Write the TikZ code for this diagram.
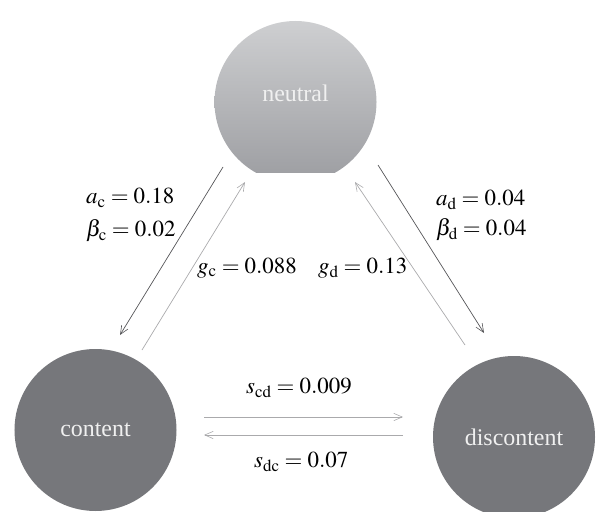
\documentclass[tikz,border=0pt]{standalone}
\usepackage{mathptmx}
\usepackage[no-math]{fontspec}
\setmainfont{Liberation Serif}
\usepackage{tikz}
\usetikzlibrary{arrows.meta,calc}
\definecolor{neutraltop}{RGB}{206,207,209}
\definecolor{neutralbot}{RGB}{156,157,161}
\definecolor{stategray}{RGB}{118,119,123}
\definecolor{ratedark}{RGB}{85,85,88}
\definecolor{ratelight}{RGB}{170,170,172}
\tikzset{
  statenode/.style={circle, minimum size=162bp, inner sep=0pt, text=white!94!black,
                    font=\fontsize{24}{28}\selectfont},
  darkarr/.style={-{Straight Barb[length=3mm,width=2.6mm,line width=0.6pt]}, draw=ratedark, line width=0.7pt},
  lightarr/.style={-{Straight Barb[length=3mm,width=2.6mm,line width=0.6pt]}, draw=ratelight, line width=0.7pt},
  ratelab/.style={anchor=west, inner sep=0pt, font=\fontsize{23}{27}\selectfont},
}

\begin{document}
\begin{tikzpicture}[x=1bp,y=-1bp]
\useasboundingbox (0,0) rectangle (596,512);
% the three states
\begin{scope}
  \clip (0,0) rectangle (596,173);
  \node[statenode, top color=neutraltop, bottom color=neutralbot] (neutral) at (295.5,102) {};
\end{scope}
\node[text=white!94!black, font=\fontsize{24}{28}\selectfont] (neutrallab) at (295.5,93) {neutral};
\node[statenode, fill=stategray] (content) at (95.5,430) {content};
\node[statenode, fill=stategray] (discontent) at (514,437) {discontent};
% transitions neutral <-> content
\draw[darkarr] ($(neutral)+(-72.5,65)$) -- ($(content)+(24.5,-95)$);
\draw[lightarr] ($(content)+(46.5,-80)$) -- ($(neutral)+(-50.5,80)$);
% transitions neutral <-> discontent
\draw[lightarr] ($(discontent)+(-49,-92)$) -- ($(neutral)+(59.5,80)$);
\draw[darkarr] ($(neutral)+(82.5,63)$) -- ($(discontent)+(-30,-104)$);
% content <-> discontent
\draw[lightarr] ($(content)+(108.5,-13)$) -- ($(discontent)+(-111,-20)$);
\draw[lightarr] ($(discontent)+(-111,-2)$) -- ($(content)+(108.5,5)$);
% rates
\node[ratelab] (ac) at (86,198) {$a_{\mathrm{c}} = 0.18$};
\node[ratelab] (bc) at (86,231) {$\beta_{\mathrm{c}} = 0.02$};
\node[ratelab] (gc) at (197,268) {$g_{\mathrm{c}} = 0.088$};
\node[ratelab] (gd) at (318,268) {$g_{\mathrm{d}} = 0.13$};
\node[ratelab] (ad) at (436,200) {$a_{\mathrm{d}} = 0.04$};
\node[ratelab] (bd) at (436,230) {$\beta_{\mathrm{d}} = 0.04$};
\node[ratelab] (scd) at (246,388) {$s_{\mathrm{cd}} = 0.009$};
\node[ratelab] (sdc) at (254,462) {$s_{\mathrm{dc}} = 0.07$};
\end{tikzpicture}
\end{document}
